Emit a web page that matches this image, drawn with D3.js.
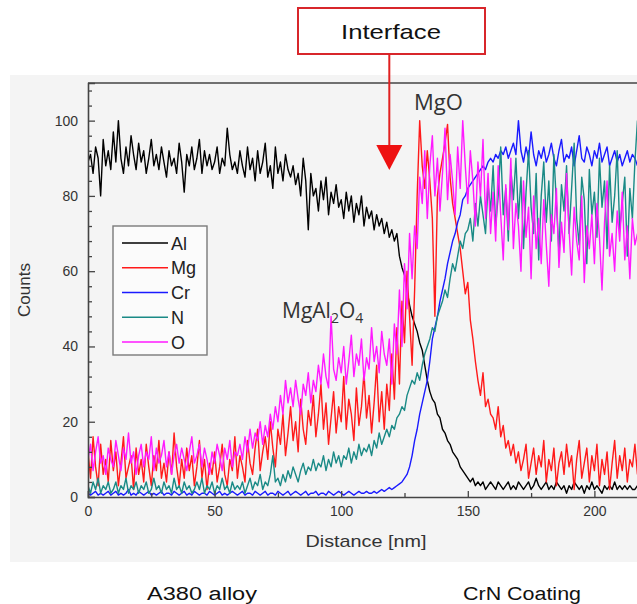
<!DOCTYPE html>
<html>
<head>
<meta charset="utf-8">
<script src="https://cdn.jsdelivr.net/npm/d3@7"></script>
<style>
  body { margin: 0; background: #fff; }
  svg { display: block; font-family: "Liberation Sans", Arial, sans-serif; }
</style>
</head>
<body>
<div id="chart"></div>
<script>
// line scan, one sample per nm
const distanceStep = 1;
const elements = ['Al', 'Mg', 'Cr', 'N', 'O'];
const elementColors = ['#000000', '#ff1a1a', '#1a1aff', '#1a8a86', '#ff1aff'];

const al = [
  89, 91, 86, 93, 90, 80, 95, 88, 92, 87,
  97, 89, 100, 90, 86, 93, 88, 96, 91, 87,
  94, 89, 92, 86, 90, 95, 88, 91, 87, 93,
  89, 85, 92, 88, 90, 86, 94, 89, 81, 91,
  88, 93, 87, 90, 95, 86, 92, 88, 91, 87,
  89, 93, 86, 90, 88, 98, 91, 87, 89, 86,
  92, 88, 85, 93, 87, 90, 84, 92, 86, 89,
  94, 85, 88, 82, 93, 86, 89, 84, 91, 87,
  85, 88, 83, 86, 80, 90, 84, 71, 86, 80,
  82, 76, 84, 79, 85, 75, 81, 78, 83, 77,
  79, 74, 81, 76, 80, 73, 78, 75, 80, 72,
  77, 74, 76, 71, 75, 72, 74, 70, 73, 69,
  71, 68, 70, 64, 61, 59, 55, 51, 48, 46,
  44, 41, 39, 35, 31, 28, 26, 25, 22, 21,
  18, 17, 15, 14, 12, 11, 10, 8, 7, 6,
  5, 4, 5, 3, 4, 3, 4, 2, 3, 4,
  3, 2, 4, 3, 2, 3, 4, 2, 3, 2,
  4, 3, 2, 3, 4, 2, 3, 5, 3, 2,
  3, 4, 2, 3, 2, 4, 3, 2, 3, 1,
  3, 2, 4, 3, 2, 3, 1, 3, 2, 4,
  2, 3, 2, 1, 3, 2, 3, 2, 4, 2,
  3, 2, 3, 2, 3, 2, 2, 3
];

const mg = [
  12, 5, 16, 8, 3, 14, 6, 10, 4, 15,
  7, 12, 3, 9, 16, 5, 8, 11, 2, 13,
  6, 10, 4, 14, 8, 3, 11, 7, 15, 5,
  9, 4, 12, 6, 17, 8, 3, 10, 5, 13,
  7, 11, 3, 8, 15, 5, 10, 2, 9, 6,
  12, 4, 8, 14, 6, 3, 10, 7, 16, 5,
  11, 8, 4, 15, 9, 6, 13, 18, 7, 12,
  16, 10, 20, 13, 8, 18, 14, 22, 11, 17,
  24, 15, 20, 12, 26, 18, 14, 23, 19, 27,
  16, 22, 30, 18, 25, 14, 21, 28, 17, 24,
  20, 32, 18, 26, 22, 15, 29, 19, 24, 33,
  21, 27, 17, 25, 35, 20, 28, 18, 30, 23,
  38, 26, 45, 30, 52, 41, 60, 48, 35, 55,
  80, 100, 88, 82, 92, 84, 74, 48, 80, 86,
  90, 94, 99, 85, 78, 74, 70, 66, 60, 54,
  57, 47, 42, 36, 31, 27, 33, 24, 26, 22,
  21, 18, 24, 16, 19, 13, 15, 11, 14, 9,
  12, 7, 10, 14, 5, 9, 13, 6, 11, 8,
  15, 4, 10, 7, 13, 3, 9, 12, 6, 14,
  8, 11, 2, 10, 15, 5, 9, 13, 4, 11,
  7, 14, 3, 10, 6, 12, 2, 9, 15, 5,
  11, 7, 13, 4, 10, 8, 14, 6
];

const cr = [
  1, 0.5, 1, 1.5, 0.5, 1, 0.5, 1, 1.5, 0.5,
  1, 1.5, 0.5, 1, 0.5, 1, 2, 0.5, 1, 0.5,
  1.5, 1, 0.5, 1, 1.5, 0.5, 1, 0.5, 1, 1.5,
  0.5, 1, 1, 0.5, 1.5, 1, 0.5, 1, 1.5, 0.5,
  1, 0.5, 1.5, 1, 0.5, 1, 1, 0.5, 1.5, 1,
  0.5, 1, 1.5, 0.5, 1, 0.5, 1, 1.5, 1, 0.5,
  1, 1.5, 0.5, 1, 1, 0.5, 1.5, 1, 0.5, 1,
  1.5, 0.5, 1, 1, 0.5, 1.5, 1, 0.5, 1, 1.5,
  0.5, 1, 1.5, 1, 0.5, 1, 1.5, 0.5, 1, 1,
  1.5, 0.5, 1, 1, 0.5, 1.5, 1, 0.5, 1, 1.5,
  1, 0.5, 1, 1.5, 1, 0.5, 1, 1.5, 1, 1,
  1.5, 1, 1, 1.5, 1, 1.5, 2, 1.5, 2, 2.5,
  2, 2.5, 3, 3.5, 4, 5, 6, 8, 11, 15,
  18, 22, 25, 28, 31, 36, 42, 45, 48, 52,
  55, 58, 62, 65, 68, 70, 73, 75, 79, 80,
  82, 83, 84, 85, 86, 87, 88, 87, 89, 90,
  89, 91, 90, 92, 91, 93, 90, 92, 94, 91,
  100, 92, 89, 93, 90, 97, 91, 88, 92, 90,
  93, 89, 91, 94, 90, 88, 92, 95, 89, 91,
  90, 93, 88, 92, 96, 90, 89, 93, 91, 88,
  92, 90, 94, 89, 91, 93, 88, 90, 92, 89,
  91, 88, 90, 92, 89, 91, 90, 88
];

const n = [
  3, 1, 4, 2, 5, 1, 3, 2, 4, 1,
  2, 4, 1, 3, 2, 5, 1, 3, 2, 4,
  1, 3, 2, 4, 1, 2, 5, 2, 3, 1,
  4, 2, 3, 1, 5, 2, 3, 1, 4, 2,
  3, 1, 2, 4, 2, 5, 1, 3, 2, 4,
  1, 3, 2, 5, 2, 3, 1, 4, 2, 3,
  2, 4, 1, 3, 5, 2, 4, 3, 6, 2,
  4, 3, 6, 11, 4, 5, 3, 6, 4, 7,
  5, 8, 6, 4, 7, 9, 6, 8, 7, 10,
  7, 9, 8, 11, 7, 10, 8, 12, 9, 11,
  8, 11, 10, 13, 9, 12, 10, 14, 11, 13,
  12, 14, 11, 15, 13, 17, 14, 16, 18, 16,
  19, 18, 21, 22, 24, 23, 27, 29, 31, 30,
  33, 31, 35, 38, 40, 42, 45, 44, 48, 50,
  52, 55, 53, 58, 62, 60, 64, 68, 66, 70,
  71, 74, 68, 78, 72, 80, 75, 70, 83, 76,
  88, 72, 80, 93, 75, 82, 68, 87, 79, 90,
  74, 85, 66, 81, 92, 77, 70, 86, 63, 80,
  89, 73, 84, 68, 91, 78, 65, 83, 76, 88,
  70, 82, 94, 74, 67, 85, 79, 62, 87, 75,
  81, 69, 90, 77, 84, 66, 88, 73, 80, 92,
  71, 78, 85, 64, 82, 74, 89, 100
];

const o = [
  10, 14, 7, 12, 16, 9, 11, 6, 13, 10,
  8, 15, 11, 7, 13, 10, 17, 9, 12, 6,
  11, 14, 8, 12, 10, 16, 7, 13, 9, 11,
  15, 8, 12, 6, 11, 14, 9, 13, 10, 7,
  12, 16, 9, 11, 14, 8, 13, 10, 6, 12,
  9, 14, 11, 7, 13, 10, 15, 8, 12, 11,
  14, 10, 16, 12, 18, 13, 17, 15, 20, 14,
  19, 16, 22, 18, 24, 20, 27, 22, 31, 25,
  29, 24, 31, 26, 22, 30, 27, 33, 25, 31,
  28, 35, 30, 38, 32, 29, 48, 34, 31, 37,
  33, 40, 30, 36, 43, 32, 38, 35, 42, 31,
  37, 34, 45, 36, 40, 33, 44, 38, 35, 42,
  30, 46, 38, 55, 40, 62, 50, 70, 58, 72,
  66, 85, 78, 92, 74, 88, 96, 80, 90, 76,
  86, 98, 79, 91, 84, 75, 93, 82, 100, 88,
  78, 92, 84, 72, 89, 80, 95, 74, 86, 70,
  81, 68, 88, 75, 63, 83, 71, 90, 66, 78,
  72, 60, 84, 69, 77, 58, 80, 66, 74, 62,
  79, 67, 56, 75, 70, 82, 61, 73, 65, 86,
  71, 59, 77, 68, 63, 80, 57, 72, 66, 75,
  62, 78, 69, 55, 73, 84, 64, 70, 60, 76,
  68, 81, 63, 72, 58, 74, 67, 70
];

const xTicks = [0, 50, 100, 150, 200];
const xMinorTicks = [25, 75, 125, 175, 225];
const yTicks = [0, 20, 40, 60, 80, 100];
const yMinorTicks = [4, 8, 12, 16, 24, 28, 32, 36, 44, 48, 52, 56, 64, 68, 72, 76, 84, 88, 92, 96, 104, 108];
const interfaceAt = 119; // nm

const series = [al, mg, cr, n, o];

const W = 637, H = 604;
const margin = { left: 88, top: 83, bottom: 497 };

const svg = d3.select("#chart").append("svg")
    .attr("width", W)
    .attr("height", H);

// grey panel behind the plot
svg.append("rect")
    .attr("x", 10).attr("y", 75)
    .attr("width", W - 10).attr("height", 487)
    .attr("fill", "#f4f4f4");

const x = d3.scaleLinear().domain([0, 250]).range([margin.left, margin.left + 250 * 2.532]);
const y = d3.scaleLinear().domain([0, 110]).range([margin.bottom, margin.top]);

svg.append("clipPath").attr("id", "plotclip")
  .append("rect")
    .attr("x", margin.left).attr("y", margin.top)
    .attr("width", W - margin.left).attr("height", margin.bottom - margin.top);

// lines
const line = d3.line()
    .x((d, i) => x(i * distanceStep))
    .y(d => y(d));

const plot = svg.append("g").attr("clip-path", "url(#plotclip)");
series.forEach((values, k) => {
    plot.append("path")
        .datum(values)
        .attr("fill", "none")
        .attr("stroke", elementColors[k])
        .attr("stroke-width", 1.4)
        .attr("stroke-linejoin", "round")
        .attr("d", line);
});

// axes
const axisColor = "#444";
svg.append("g")
    .attr("transform", `translate(0,${margin.bottom})`)
    .call(d3.axisBottom(x).tickValues(xTicks).tickSize(-6).tickPadding(9));
svg.append("g")
    .attr("transform", `translate(0,${margin.bottom})`)
    .call(d3.axisBottom(x).tickValues(xMinorTicks).tickSize(-4).tickFormat(""))
    .select(".domain").remove();

svg.append("g")
    .attr("transform", `translate(${margin.left},0)`)
    .call(d3.axisLeft(y).tickValues(yTicks).tickSize(-7).tickPadding(10));
svg.append("g")
    .attr("transform", `translate(${margin.left},0)`)
    .call(d3.axisLeft(y).tickValues(yMinorTicks).tickSize(-4).tickFormat(""))
    .select(".domain").remove();

svg.selectAll(".domain").attr("stroke", axisColor).attr("stroke-width", 1.6);
svg.selectAll(".tick line").attr("stroke", axisColor).attr("stroke-width", 1.3);
svg.selectAll(".tick text")
    .attr("fill", "#333")
    .style("font-size", "14px")
    .style("font-family", "'Liberation Sans', Arial, sans-serif");

// top frame line
svg.append("line")
    .attr("x1", margin.left).attr("x2", W)
    .attr("y1", margin.top).attr("y2", margin.top)
    .attr("stroke", axisColor).attr("stroke-width", 1.6);

// axis titles
svg.append("text")
    .attr("x", 366).attr("y", 547)
    .attr("text-anchor", "middle")
    .attr("fill", "#333")
    .style("font-size", "17px")
    .attr("textLength", 121).attr("lengthAdjust", "spacingAndGlyphs")
    .text("Distance [nm]");

svg.append("text")
    .attr("transform", "translate(30,290) rotate(-90)")
    .attr("text-anchor", "middle")
    .attr("fill", "#333")
    .style("font-size", "17px")
    .text("Counts");

// legend
const legend = svg.append("g").attr("transform", "translate(113,226)");
legend.append("rect")
    .attr("width", 94).attr("height", 129)
    .attr("fill", "#fbfbfb")
    .attr("stroke", "#7a7a7a").attr("stroke-width", 1.4);
elements.forEach((name, k) => {
    const ly = 17 + k * 24.75;
    legend.append("line")
        .attr("x1", 9).attr("x2", 55)
        .attr("y1", ly).attr("y2", ly)
        .attr("stroke", elementColors[k]).attr("stroke-width", 1.5);
    legend.append("text")
        .attr("x", 58).attr("y", ly + 6.5)
        .attr("fill", "#222")
        .style("font-size", "18px")
        .text(name);
});

// phase labels
const phaseFont = "'Open Sans', 'Noto Sans', sans-serif";
svg.append("text")
    .attr("x", 414).attr("y", 110)
    .attr("fill", "#333")
    .style("font-family", phaseFont)
    .style("font-size", "22px")
    .text("MgO");

const spinel = svg.append("text")
    .attr("x", 282).attr("y", 318)
    .attr("fill", "#333")
    .style("font-family", phaseFont)
    .style("font-size", "21px");
spinel.append("tspan").text("MgAl");
spinel.append("tspan").attr("dy", 5).style("font-size", "14px").text("2");
spinel.append("tspan").attr("dy", -5).text("O");
spinel.append("tspan").attr("dy", 5).style("font-size", "14px").text("4");

// interface marker
const ix = x(interfaceAt);
svg.append("rect")
    .attr("x", 298).attr("y", 8)
    .attr("width", 187).attr("height", 46)
    .attr("fill", "#fff")
    .attr("stroke", "#d8262b").attr("stroke-width", 2);
svg.append("text")
    .attr("x", 391).attr("y", 39)
    .attr("text-anchor", "middle")
    .attr("fill", "#111")
    .style("font-size", "21px")
    .attr("textLength", 100).attr("lengthAdjust", "spacingAndGlyphs")
    .text("Interface");
svg.append("line")
    .attr("x1", ix).attr("x2", ix)
    .attr("y1", 54).attr("y2", 148)
    .attr("stroke", "#e02020").attr("stroke-width", 2);
svg.append("path")
    .attr("d", `M${ix - 13},145 L${ix + 13},145 L${ix},170 Z`)
    .attr("fill", "#ee1111");

// region captions
svg.append("text")
    .attr("x", 202).attr("y", 600)
    .attr("text-anchor", "middle")
    .attr("fill", "#111")
    .style("font-size", "18px")
    .attr("textLength", 110).attr("lengthAdjust", "spacingAndGlyphs")
    .text("A380 alloy");
svg.append("text")
    .attr("x", 522).attr("y", 600)
    .attr("text-anchor", "middle")
    .attr("fill", "#111")
    .style("font-size", "18px")
    .attr("textLength", 118).attr("lengthAdjust", "spacingAndGlyphs")
    .text("CrN Coating");
</script>
</body>
</html>
